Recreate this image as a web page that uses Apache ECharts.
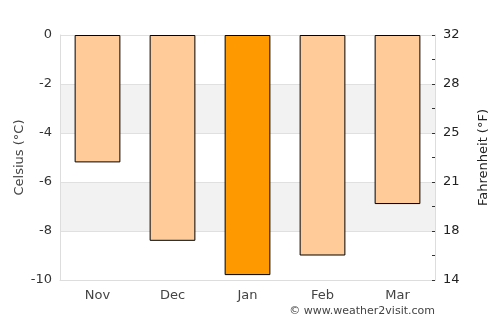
<!DOCTYPE html>
<html><head><meta charset="utf-8">
<script src="https://cdn.jsdelivr.net/npm/echarts@6/dist/echarts.min.js"></script>
<style>html,body{margin:0;padding:0;background:#fff}#c{width:500px;height:325px}</style>
</head><body><div id="c"></div>
<script>
const months = ['Nov', 'Dec', 'Jan', 'Feb', 'Mar'];
const celsius = [-5.2, -8.4, -9.8, -9.0, -6.9];
const highlight = [false, false, true, false, false];
const fahrenheitLabels = {'0': '32', '-2': '28', '-4': '25', '-6': '21', '-8': '18', '-10': '14'};

const font = 'DejaVu Sans';
const chart = echarts.init(document.getElementById('c'), null, {renderer: 'canvas'});
chart.setOption({
  animation: false,
  grid: {left: 60, right: 65, top: 35, bottom: 45, containLabel: false},
  xAxis: {
    type: 'category', data: months, position: 'bottom',
    axisLine: {onZero: false, lineStyle: {color: '#dddddd'}},
    axisTick: {show: false},
    axisLabel: {color: '#444', fontFamily: font, fontSize: 13, margin: 9}
  },
  yAxis: [{
    type: 'value', min: -10, max: 0, interval: 2, position: 'left',
    name: 'Celsius (°C)', nameLocation: 'middle', nameGap: 34, nameMoveOverlap: false,
    nameTextStyle: {color: '#444', fontFamily: font, fontSize: 13},
    axisLine: {show: true, lineStyle: {color: '#dddddd'}},
    axisTick: {show: false},
    axisLabel: {color: '#333', fontFamily: font, fontSize: 13, margin: 8},
    splitLine: {show: true, lineStyle: {color: '#e0e0e0'}},
    splitArea: {show: true, areaStyle: {color: ['#ffffff', '#f2f2f2']}}
  }, {
    type: 'value', min: -10, max: 0, interval: 1, position: 'right',
    name: 'Fahrenheit (°F)', nameLocation: 'middle', nameGap: 42,
    nameRotate: 90,
    nameTextStyle: {color: '#222', fontFamily: font, fontSize: 13},
    axisLine: {show: true, lineStyle: {color: '#dddddd'}},
    axisTick: {show: true, inside: true, length: 3, lineStyle: {color: '#333'}},
    axisLabel: {color: '#222', fontFamily: font, fontSize: 13, margin: 8,
      formatter: v => { const k = String(Math.round(v)); return fahrenheitLabels[k] !== undefined ? fahrenheitLabels[k] : ''; }},
    splitLine: {show: false}
  }],
  series: [{
    type: 'bar', yAxisIndex: 0, barWidth: '61%',
    data: celsius.map((v, i) => ({value: v, itemStyle: {color: highlight[i] ? '#ff9900' : '#ffcc99'}})),
    itemStyle: {borderColor: '#000', borderWidth: 1}
  }],
  graphic: [{
    type: 'text', right: 65, top: 306,
    style: {text: '© www.weather2visit.com', fill: '#444', font: '11px "DejaVu Sans"'}
  }]
});
</script></body></html>
